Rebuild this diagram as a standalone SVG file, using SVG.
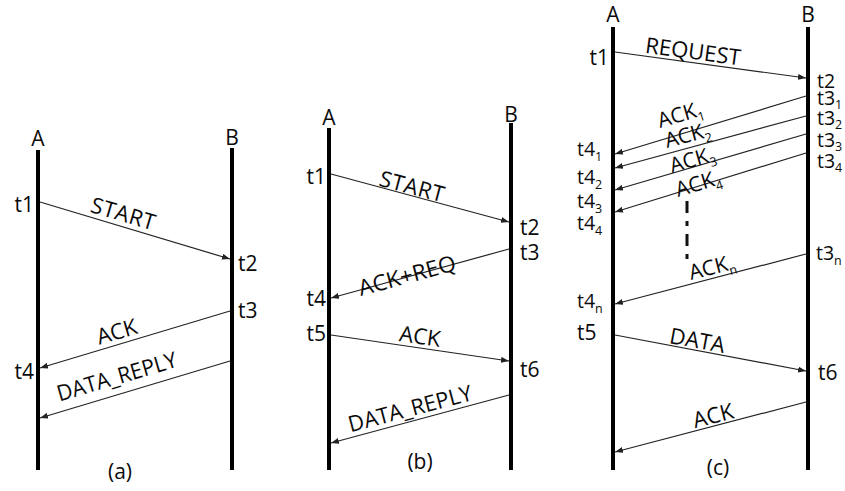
<svg xmlns="http://www.w3.org/2000/svg" width="845" height="491" viewBox="0 0 845 491">
<style>
text{font-family:"Open Sans","Liberation Sans",sans-serif;fill:#0a0a0a}
.ll{stroke:#000;stroke-width:4}
.hd{font-size:21px;text-anchor:middle}
.t{font-size:21px}
.tl{font-size:21px;text-anchor:end}
.tc{font-size:19.5px}
.lb{font-size:22px;text-anchor:middle}
.ls{font-size:21px}
.cap{font-size:21px;text-anchor:middle}
.msg{stroke:#222;stroke-width:1.2;fill:none;marker-end:url(#ah)}
.sub{font-size:12.5px}
</style>
<defs>
<marker id="ah" markerUnits="userSpaceOnUse" markerWidth="8" markerHeight="6" refX="8" refY="3" orient="auto">
<path d="M0,0 L8,3 L0,6 z" fill="#222"/>
</marker>
</defs>
<rect width="845" height="491" fill="#fff"/>

<!-- Panel (a) -->
<g id="a-A">
<line class="ll" x1="38" y1="150" x2="38" y2="470"/>
<text class="hd" x="38" y="146">A</text>
<text class="tl" x="34" y="212">t1</text>
<text class="tl" x="34" y="379">t4</text>
</g>
<g id="a-B">
<line class="ll" x1="232" y1="148" x2="232" y2="470"/>
<text class="hd" x="232" y="145">B</text>
<text class="t" x="238" y="271">t2</text>
<text class="t" x="238" y="318">t3</text>
</g>
<text class="cap" x="120" y="479">(a)</text>

<!-- Panel (b) -->
<g id="b-A">
<line class="ll" x1="329" y1="128" x2="329" y2="470"/>
<text class="hd" x="329" y="125">A</text>
<text class="tl" x="326" y="184">t1</text>
<text class="tl" x="326" y="306">t4</text>
<text class="tl" x="326" y="341">t5</text>
</g>
<g id="b-B">
<line class="ll" x1="511" y1="123" x2="511" y2="470"/>
<text class="hd" x="511" y="122">B</text>
<text class="t" x="520" y="235">t2</text>
<text class="t" x="520" y="260">t3</text>
<text class="t" x="520" y="377">t6</text>
</g>
<text class="cap" x="420" y="469">(b)</text>

<!-- Panel (c) -->
<g id="c-A">
<line class="ll" x1="613" y1="27" x2="613" y2="470"/>
<text class="hd" x="613" y="22">A</text>
<text class="tl" x="609" y="65">t1</text>
<text class="tc" x="577" y="156">t4<tspan class="sub" dy="5">1</tspan></text>
<text class="tc" x="577" y="184">t4<tspan class="sub" dy="5">2</tspan></text>
<text class="tc" x="577" y="208">t4<tspan class="sub" dy="5">3</tspan></text>
<text class="tc" x="577" y="230">t4<tspan class="sub" dy="5">4</tspan></text>
<text class="tc" x="577" y="308">t4<tspan class="sub" dy="5">n</tspan></text>
<text class="t" x="577" y="340">t5</text>
</g>
<g id="c-B">
<line class="ll" x1="808" y1="27" x2="808" y2="470"/>
<text class="hd" x="808" y="22">B</text>
<text class="tc" x="817" y="88">t2</text>
<text class="tc" x="817" y="105">t3<tspan class="sub" dy="4">1</tspan></text>
<text class="tc" x="817" y="125">t3<tspan class="sub" dy="4">2</tspan></text>
<text class="tc" x="817" y="147">t3<tspan class="sub" dy="4">3</tspan></text>
<text class="tc" x="817" y="168">t3<tspan class="sub" dy="4">4</tspan></text>
<text class="tc" x="816" y="260">t3<tspan class="sub" dy="5">n</tspan></text>
<text class="t" x="818" y="380">t6</text>
</g>
<text class="cap" x="718" y="475">(c)</text>

<g id="connectors">
<!-- (a) -->
<line class="msg" x1="40" y1="202" x2="230" y2="259"/>
<line class="msg" x1="230" y1="311" x2="40" y2="368"/>
<line class="msg" x1="230" y1="361" x2="40" y2="418"/>
<!-- (b) -->
<line class="msg" x1="331" y1="174" x2="509" y2="222"/>
<line class="msg" x1="509" y1="249" x2="331" y2="298"/>
<line class="msg" x1="331" y1="335" x2="509" y2="361"/>
<line class="msg" x1="509" y1="395" x2="331" y2="443"/>
<!-- (c) -->
<line class="msg" x1="615" y1="52" x2="806" y2="78"/>
<line class="msg" x1="806" y1="96" x2="615" y2="154"/>
<line class="msg" x1="806" y1="116" x2="615" y2="168"/>
<line class="msg" x1="806" y1="134" x2="615" y2="190"/>
<line class="msg" x1="806" y1="153" x2="615" y2="212"/>
<line class="msg" x1="806" y1="254" x2="615" y2="304"/>
<line class="msg" x1="615" y1="335" x2="806" y2="371"/>
<line class="msg" x1="806" y1="402" x2="615" y2="452"/>
<line x1="687" y1="201" x2="687" y2="266" stroke="#111" stroke-width="3" stroke-dasharray="12 8 5 8"/>
</g>

<g id="labels">
<text class="lb" transform="translate(121,221) rotate(16.4)" textLength="66" lengthAdjust="spacing">START</text>
<text class="lb" transform="translate(119,339) rotate(-16.4)">ACK</text>
<text class="lb" transform="translate(119,384) rotate(-16.4)" textLength="124" lengthAdjust="spacingAndGlyphs">DATA_REPLY</text>

<text class="lb" transform="translate(410,194) rotate(14.8)" textLength="66" lengthAdjust="spacing">START</text>
<text class="lb" transform="translate(409,283) rotate(-15.1)" textLength="100" lengthAdjust="spacingAndGlyphs">ACK+REQ</text>
<text class="lb" transform="translate(419,344) rotate(8.1)">ACK</text>
<text class="lb" transform="translate(412,416) rotate(-14.8)" textLength="127" lengthAdjust="spacingAndGlyphs">DATA_REPLY</text>

<text class="lb" transform="translate(692,59) rotate(7.6)" textLength="96" lengthAdjust="spacingAndGlyphs">REQUEST</text>
<text class="ls" transform="translate(660,128) rotate(-16.6)">ACK<tspan class="sub" dy="5">1</tspan></text>
<text class="ls" transform="translate(667,148) rotate(-14.9)">ACK<tspan class="sub" dy="5">2</tspan></text>
<text class="ls" transform="translate(672,173) rotate(-16)">ACK<tspan class="sub" dy="5">3</tspan></text>
<text class="ls" transform="translate(678,197) rotate(-16.8)">ACK<tspan class="sub" dy="5">4</tspan></text>
<text class="ls" transform="translate(691,280) rotate(-14.4)">ACK<tspan class="sub" dy="5">n</tspan></text>
<text class="lb" transform="translate(696,348) rotate(10.5)">DATA</text>
<text class="lb" transform="translate(715,423) rotate(-14.4)">ACK</text>
</g>
</svg>
